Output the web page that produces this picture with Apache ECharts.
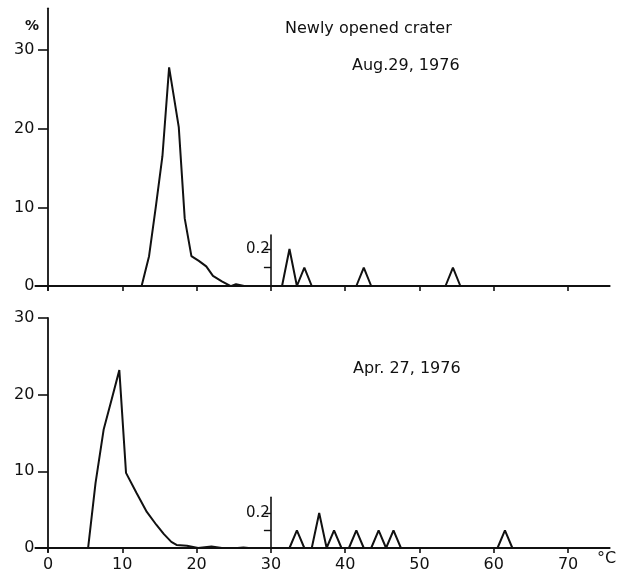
<!DOCTYPE html>
<html><head><meta charset="utf-8">
<script src="https://cdn.jsdelivr.net/npm/echarts@6/dist/echarts.min.js"></script>
<style>html,body{margin:0;padding:0;background:#fff}#c{width:619px;height:575px}</style>
</head><body><div id="c"></div><script>
// ---- data ----
const tempTicks = [0, 10, 20, 30, 40, 50, 60, 70];
const pctTicks = [0, 10, 20, 30];
const insetTicks = [0.1, 0.2];
const insetLabels = [0.2];

// Aug. 29, 1976 (Newly opened crater) - main curve, % scale
const augTemp = [12.6, 13.6, 14.5, 15.4, 16.3, 16.9, 17.6, 18.4, 19.3, 20.3, 21.3, 22.2, 23.4, 24.6, 25.3, 26.4];
const augPct  = [0,    3.8,  10,   16.5, 27.8, 24.3, 20.2, 8.6,  3.8,  3.2,  2.5,  1.3,  0.6,  0,    0.25, 0];
// Aug. 29, 1976 - magnified part above 30 C
const augInsetTemp = [31.5, 32.5, 33.5, 34.5, 35.5, 41.5, 42.5, 43.5, 53.5, 54.5, 55.5];
const augInsetPct  = [0,    0.2,  0,    0.1,  0,    0,    0.1,  0,    0,    0.1,  0];

// Apr. 27, 1976 - main curve
const aprTemp = [5.4, 6.4, 7.5, 8.6, 9.6, 10.5, 11.9, 13.3, 14.6, 15.6, 16.6, 17.3, 18.7, 20.2, 22.0, 23.4, 25.5, 26.3, 27];
const aprPct  = [0,   8.5, 15.5, 19.5, 23.2, 9.8, 7.2, 4.7,  3.0,  1.8,  0.8,  0.4,  0.3,  0,    0.2,  0,    0,    0.05, 0];
// Apr. 27, 1976 - magnified part above 30 C
const aprInsetTemp = [32.5, 33.5, 34.5, 35.5, 36.5, 37.5, 38.5, 39.5, 40.5, 41.5, 42.5, 43.5, 44.5, 45.5, 46.5, 47.5, 60.5, 61.5, 62.5];
const aprInsetPct  = [0,    0.1,  0,    0,    0.2,  0,    0.1,  0,    0,    0.1,  0,    0,    0.1,  0,    0.1,  0,    0,    0.1,  0];

const zip = (a, b) => a.map((v, i) => [v, b[i]]);

// ---- layout ----
const X_MIN = -1.7, X_MAX = 75.6;
const PX0 = 48, PX_PER = 7.43;
const gridLeft = PX0 + X_MIN * PX_PER;
const gridRight = 619 - (PX0 + X_MAX * PX_PER);
const insetLeft = PX0 + 30 * PX_PER;

const FONT = 'DejaVu Sans';
const INK = '#111';
const lineStyle = { color: INK, width: 2 };

function mainX(gridIndex, showLabels) {
  return {
    type: 'value', gridIndex, min: X_MIN, max: X_MAX,
    axisLine: { show: true, onZero: true, lineStyle: { color: INK, width: 1.8 } },
    axisTick: { show: true, length: 5, customValues: tempTicks, lineStyle: { color: INK, width: 1.6 } },
    axisLabel: { show: showLabels, customValues: tempTicks, margin: 5, color: INK, fontFamily: FONT, fontSize: 16 },
    splitLine: { show: false }
  };
}
function mainY(gridIndex, max) {
  return {
    type: 'value', gridIndex, min: -0.5, max,
    axisLine: { show: true, onZero: true, lineStyle: { color: INK, width: 1.8 } },
    axisTick: { show: true, length: 10, customValues: pctTicks, lineStyle: { color: INK, width: 1.6 } },
    axisLabel: { customValues: pctTicks, margin: 1, color: INK, fontFamily: FONT, fontSize: 16 },
    splitLine: { show: false }
  };
}
function insetX(gridIndex) {
  return { type: 'value', gridIndex, min: 30, max: X_MAX, show: false };
}
function insetY(gridIndex, max) {
  return {
    type: 'value', gridIndex, min: 0, max,
    axisLine: { show: true, onZero: false, lineStyle: { color: INK, width: 1.6 } },
    axisTick: { show: true, length: 7, customValues: insetTicks, lineStyle: { color: INK, width: 1.4 } },
    axisLabel: { customValues: insetLabels, margin: 1, color: INK, fontFamily: FONT, fontSize: 15 },
    splitLine: { show: false }
  };
}

const option = {
  backgroundColor: '#fff',
  animation: false,
  grid: [
    { left: gridLeft, right: gridRight, top: 8.3, height: 281.7 },
    { left: insetLeft, right: gridRight, top: 235, height: 51 },
    { left: gridLeft, right: gridRight, top: 318, height: 233.8 },
    { left: insetLeft, right: gridRight, top: 497.2, height: 50.8 }
  ],
  xAxis: [mainX(0, false), insetX(1), mainX(2, true), insetX(3)],
  yAxis: [mainY(0, 35.3), insetY(1, 0.276), mainY(2, 30), insetY(3, 0.29)],
  series: [
    { type: 'line', xAxisIndex: 0, yAxisIndex: 0, data: zip(augTemp, augPct), showSymbol: false, lineStyle, z: 5 },
    { type: 'line', xAxisIndex: 1, yAxisIndex: 1, data: zip(augInsetTemp, augInsetPct), showSymbol: false, lineStyle, z: 5 },
    { type: 'line', xAxisIndex: 2, yAxisIndex: 2, data: zip(aprTemp, aprPct), showSymbol: false, lineStyle, z: 5 },
    { type: 'line', xAxisIndex: 3, yAxisIndex: 3, data: zip(aprInsetTemp, aprInsetPct), showSymbol: false, lineStyle, z: 5 }
  ],
  graphic: [
    { type: 'text', left: 25, top: 19, style: { text: '%', font: 'bold 14px "DejaVu Sans"', fill: INK } },
    { type: 'text', left: 285, top: 21, style: { text: 'Newly opened crater', font: '16px "DejaVu Sans"', fill: INK } },
    { type: 'text', left: 352, top: 58, style: { text: 'Aug.29, 1976', font: '16px "DejaVu Sans"', fill: INK } },
    { type: 'text', left: 353, top: 361, style: { text: 'Apr. 27, 1976', font: '16px "DejaVu Sans"', fill: INK } },
    { type: 'text', left: 597, top: 551, style: { text: '°C', font: '16px "DejaVu Sans"', fill: INK } }
  ]
};
echarts.init(document.getElementById('c'), null, { renderer: 'canvas' }).setOption(option);
</script></body></html>
